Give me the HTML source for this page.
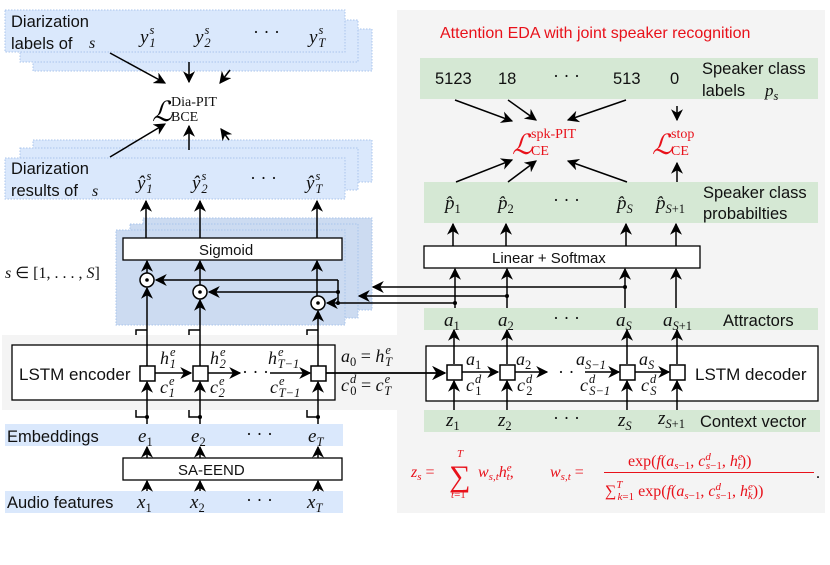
<!DOCTYPE html>
<html><head><meta charset="utf-8"><style>
html,body{margin:0;padding:0;background:#fff;}
svg{display:block;}
.sf{font-family:"Liberation Sans",sans-serif;font-size:16.5px;fill:#111;}
.m{font-family:"Liberation Serif",serif;font-style:italic;font-size:19px;fill:#111;}
.r{font-family:"Liberation Serif",serif;font-size:18px;fill:#111;}
.s{font-size:12.5px;}
.red{fill:#e8111a;}
</style></head><body>
<svg width="830" height="565" viewBox="0 0 830 565" xmlns="http://www.w3.org/2000/svg">
<defs>
<marker id="a" viewBox="0 0 10 10" refX="9" refY="5" markerWidth="8" markerHeight="8" orient="auto-start-reverse"><path d="M0,0 L10,5 L0,10 L3,5z" fill="#000"/></marker>
</defs>
<rect x="397" y="10" width="428" height="503" fill="#f4f4f4"/>
<rect x="2" y="335" width="395" height="75" fill="#f4f4f4"/>
<g fill="#dae8fc" stroke="#a9c4eb" stroke-dasharray="1.5,1.5">
<rect x="33" y="29" width="339" height="42"/>
<rect x="20" y="20" width="338" height="42"/>
<rect x="5" y="10" width="340" height="42"/>
<rect x="33" y="140" width="339" height="42"/>
<rect x="20" y="148" width="338" height="42"/>
<rect x="5" y="158" width="340" height="41"/>
</g>
<g fill="#ccdbf1" stroke="#a9c4eb" stroke-dasharray="1.5,1.5">
<rect x="143" y="218" width="229" height="92"/>
<rect x="130" y="224" width="228" height="94"/>
<rect x="116" y="230" width="229" height="95"/>
</g>
<g fill="#dae8fc">
<rect x="5" y="424" width="338" height="22"/>
<rect x="5" y="491" width="338" height="22"/>
</g>
<g fill="#d5e8d4">
<rect x="420" y="58" width="398" height="41"/>
<rect x="424" y="182" width="394" height="41"/>
<rect x="424" y="308" width="394" height="22"/>
<rect x="424" y="410" width="396" height="22"/>
</g>
<g fill="#fff" stroke="#000" stroke-width="1.3">
<rect x="123" y="238" width="219" height="22"/>
<rect x="123" y="458" width="219" height="22"/>
<rect x="12" y="345" width="323" height="55"/>
<rect x="424" y="246" width="276" height="22"/>
<rect x="426" y="346" width="392" height="55"/>
</g>
<text class="sf" x="11" y="27">Diarization</text>
<text class="sf" x="11" y="49">labels of</text><text class="m" x="89" y="48" style="font-size:16px">s</text>
<text class="sf" x="11" y="174">Diarization</text>
<text class="sf" x="11" y="196">results of</text><text class="m" x="92" y="196" style="font-size:16px">s</text>
<g class="m">
<text x="140" y="43">y<tspan class="s" dx="1" dy="-9">s</tspan><tspan class="s" dx="-5" dy="13">1</tspan></text>
<text x="195" y="43">y<tspan class="s" dx="1" dy="-9">s</tspan><tspan class="s" dx="-5" dy="13">2</tspan></text>
<text x="309" y="43">y<tspan class="s" dx="1" dy="-9">s</tspan><tspan class="s" dx="-5" dy="13">T</tspan></text>
<text x="137" y="189">ŷ<tspan class="s" dx="1" dy="-9">s</tspan><tspan class="s" dx="-5" dy="13">1</tspan></text>
<text x="192" y="189">ŷ<tspan class="s" dx="1" dy="-9">s</tspan><tspan class="s" dx="-5" dy="13">2</tspan></text>
<text x="306" y="189">ŷ<tspan class="s" dx="1" dy="-9">s</tspan><tspan class="s" dx="-5" dy="13">T</tspan></text>
</g>
<text class="r" x="253" y="38">· · ·</text>
<text class="r" x="250" y="184">· · ·</text>
<text x="152" y="121" style="font-family:'Liberation Serif',serif;font-style:italic;font-size:28px">ℒ</text>
<text class="r" x="171" y="106" style="font-size:14px">Dia-PIT</text>
<text class="r" x="171" y="121" style="font-size:14px">BCE</text>
<text class="sf" x="199" y="255" style="font-size:15px">Sigmoid</text>
<text class="m" x="5" y="278" style="font-size:16px">s <tspan style="font-style:normal">∈ [1, . . . , </tspan>S<tspan style="font-style:normal">]</tspan></text>
<text class="sf" x="19" y="380" style="font-size:17px">LSTM encoder</text>
<g class="m" style="font-size:18px">
<text x="160" y="364">h<tspan class="s" dx="1" dy="-8">e</tspan><tspan class="s" dx="-6" dy="12">1</tspan></text>
<text x="160" y="393">c<tspan class="s" dx="1" dy="-8">e</tspan><tspan class="s" dx="-6" dy="12">1</tspan></text>
<text x="210" y="364">h<tspan class="s" dx="1" dy="-8">e</tspan><tspan class="s" dx="-6" dy="12">2</tspan></text>
<text x="210" y="393">c<tspan class="s" dx="1" dy="-8">e</tspan><tspan class="s" dx="-6" dy="12">2</tspan></text>
<text x="268" y="364">h<tspan class="s" dx="1" dy="-8">e</tspan><tspan class="s" dx="-6" dy="12">T−1</tspan></text>
<text x="270" y="393">c<tspan class="s" dx="1" dy="-8">e</tspan><tspan class="s" dx="-6" dy="12">T−1</tspan></text>
<text x="341" y="362">a<tspan class="s" style="font-style:normal" dy="4">0</tspan><tspan dy="-4" style="font-style:normal"> = </tspan>h<tspan class="s" dx="1" dy="-8">e</tspan><tspan class="s" dx="-6" dy="12">T</tspan></text>
<text x="341" y="391">c<tspan class="s" dx="1" dy="-8">d</tspan><tspan class="s" dx="-6" dy="12" style="font-style:normal">0</tspan><tspan dy="-4" style="font-style:normal"> = </tspan>c<tspan class="s" dx="1" dy="-8">e</tspan><tspan class="s" dx="-6" dy="12">T</tspan></text>
</g>
<text class="r" x="242" y="378">· · ·</text>
<text class="sf" x="7" y="442">Embeddings</text>
<text class="sf" x="7" y="508">Audio features</text>
<g class="m">
<text x="138" y="442">e<tspan class="s" dy="4" style="font-style:normal">1</tspan></text>
<text x="191" y="442">e<tspan class="s" dy="4" style="font-style:normal">2</tspan></text>
<text x="308" y="442">e<tspan class="s" dy="4">T</tspan></text>
<text x="137" y="508">x<tspan class="s" dy="4" style="font-style:normal">1</tspan></text>
<text x="190" y="508">x<tspan class="s" dy="4" style="font-style:normal">2</tspan></text>
<text x="307" y="508">x<tspan class="s" dy="4">T</tspan></text>
</g>
<text class="r" x="246" y="440">· · ·</text>
<text class="r" x="246" y="506">· · ·</text>
<text class="sf" x="178" y="475" style="font-size:15px">SA-EEND</text>
<text class="sf red" x="440" y="38" style="font-size:16px">Attention EDA with joint speaker recognition</text>
<text class="sf" x="435" y="84">5123</text>
<text class="sf" x="498" y="84">18</text>
<text class="r" x="553" y="82">· · ·</text>
<text class="sf" x="613" y="84">513</text>
<text class="sf" x="670" y="84">0</text>
<text class="sf" x="702" y="74">Speaker class</text>
<text class="sf" x="702" y="96">labels</text><text class="m" x="765" y="96" style="font-size:17px">p<tspan class="s" dy="4">s</tspan></text>
<text x="512" y="154" style="font-family:'Liberation Serif',serif;font-style:italic;font-size:28px;fill:#e8111a">ℒ</text>
<text class="r red" x="531" y="138" style="font-size:14px">spk-PIT</text>
<text class="r red" x="531" y="155" style="font-size:14px">CE</text>
<text x="652" y="154" style="font-family:'Liberation Serif',serif;font-style:italic;font-size:28px;fill:#e8111a">ℒ</text>
<text class="r red" x="671" y="138" style="font-size:14px">stop</text>
<text class="r red" x="671" y="155" style="font-size:14px">CE</text>
<g class="m">
<text x="445" y="209">p̂<tspan class="s" dy="4" style="font-style:normal">1</tspan></text>
<text x="498" y="209">p̂<tspan class="s" dy="4" style="font-style:normal">2</tspan></text>
<text x="617" y="209">p̂<tspan class="s" dy="4">S</tspan></text>
<text x="656" y="209">p̂<tspan class="s" dy="4">S<tspan style="font-style:normal">+1</tspan></tspan></text>
<text x="444" y="326">a<tspan class="s" dy="4" style="font-style:normal">1</tspan></text>
<text x="498" y="326">a<tspan class="s" dy="4" style="font-style:normal">2</tspan></text>
<text x="616" y="326">a<tspan class="s" dy="4">S</tspan></text>
<text x="663" y="326">a<tspan class="s" dy="4">S<tspan style="font-style:normal">+1</tspan></tspan></text>
<text x="446" y="426">z<tspan class="s" dy="4" style="font-style:normal">1</tspan></text>
<text x="498" y="426">z<tspan class="s" dy="4" style="font-style:normal">2</tspan></text>
<text x="618" y="426">z<tspan class="s" dy="4">S</tspan></text>
<text x="658" y="424">z<tspan class="s" dy="4">S<tspan style="font-style:normal">+1</tspan></tspan></text>
</g>
<text class="r" x="553" y="206">· · ·</text>
<text class="r" x="553" y="324">· · ·</text>
<text class="r" x="553" y="424">· · ·</text>
<text class="sf" x="703" y="198">Speaker class</text>
<text class="sf" x="703" y="219">probabilties</text>
<text class="sf" x="492" y="263" style="font-size:15px">Linear + Softmax</text>
<text class="sf" x="723" y="326">Attractors</text>
<text class="sf" x="700" y="427">Context vector</text>
<text class="sf" x="695" y="380" style="font-size:17px">LSTM decoder</text>
<g class="m" style="font-size:18px">
<text x="466" y="365">a<tspan class="s" dy="4" style="font-style:normal">1</tspan></text>
<text x="466" y="391">c<tspan class="s" dx="1" dy="-8">d</tspan><tspan class="s" dx="-6" dy="12" style="font-style:normal">1</tspan></text>
<text x="516" y="365">a<tspan class="s" dy="4" style="font-style:normal">2</tspan></text>
<text x="517" y="391">c<tspan class="s" dx="1" dy="-8">d</tspan><tspan class="s" dx="-6" dy="12" style="font-style:normal">2</tspan></text>
<text x="576" y="365">a<tspan class="s" dy="4">S−1</tspan></text>
<text x="580" y="391">c<tspan class="s" dx="1" dy="-8">d</tspan><tspan class="s" dx="-6" dy="12">S−1</tspan></text>
<text x="639" y="365">a<tspan class="s" dy="4">S</tspan></text>
<text x="641" y="391">c<tspan class="s" dx="1" dy="-8">d</tspan><tspan class="s" dx="-6" dy="12">S</tspan></text>
</g>
<text class="r" x="558" y="378">· ·</text>
<g style="font-family:'Liberation Serif',serif;font-size:16px;fill:#e8111a">
<text x="411" y="477"><tspan font-style="italic">z</tspan><tspan font-size="11" font-style="italic" dy="3">s</tspan><tspan dy="-3"> = </tspan></text>
<text x="449" y="486" font-size="30">∑</text>
<text x="457" y="457" font-size="11" font-style="italic">T</text>
<text x="451" y="498" font-size="11"><tspan font-style="italic">t</tspan>=1</text>
<text x="478" y="477" font-style="italic">w<tspan font-size="11" dy="3">s,t</tspan><tspan dy="-3">h</tspan><tspan font-size="11" dy="-6">e</tspan><tspan font-size="11" dx="-5" dy="9">t</tspan><tspan dy="-3" font-style="normal">,</tspan></text>
<text x="550" y="477"><tspan font-style="italic">w</tspan><tspan font-size="11" font-style="italic" dy="3">s,t</tspan><tspan dy="-3"> = </tspan></text>
<text x="628" y="466">exp(<tspan font-style="italic">f</tspan>(<tspan font-style="italic">a</tspan><tspan font-size="11" dy="3"><tspan font-style="italic">s</tspan>−1</tspan><tspan dy="-3">, </tspan><tspan font-style="italic">c</tspan><tspan font-size="11" dy="-6" font-style="italic">d</tspan><tspan font-size="11" dx="-5" dy="9"><tspan font-style="italic">s</tspan>−1</tspan><tspan dy="-3">, </tspan><tspan font-style="italic">h</tspan><tspan font-size="11" dy="-6" font-style="italic">e</tspan><tspan font-size="11" dx="-5" dy="9" font-style="italic">t</tspan><tspan dy="-3">))</tspan></text>
<rect x="604" y="472" width="210" height="1" fill="#e8111a"/>
<text x="605" y="496">∑<tspan font-size="11" dy="-8" font-style="italic">T</tspan><tspan font-size="11" dx="-5" dy="12"><tspan font-style="italic">k</tspan>=1</tspan><tspan dy="-4"> exp(</tspan><tspan font-style="italic">f</tspan>(<tspan font-style="italic">a</tspan><tspan font-size="11" dy="3"><tspan font-style="italic">s</tspan>−1</tspan><tspan dy="-3">, </tspan><tspan font-style="italic">c</tspan><tspan font-size="11" dy="-6" font-style="italic">d</tspan><tspan font-size="11" dx="-5" dy="9"><tspan font-style="italic">s</tspan>−1</tspan><tspan dy="-3">, </tspan><tspan font-style="italic">h</tspan><tspan font-size="11" dy="-6" font-style="italic">e</tspan><tspan font-size="11" dx="-5" dy="9" font-style="italic">k</tspan><tspan dy="-3">))</tspan></text>
<text x="816" y="478" fill="#000">.</text>
</g>
<g stroke="#000" stroke-width="1.5" fill="none">
<path d="M110,53 L165,83" marker-end="url(#a)"/>
<path d="M189,62 L189,82" marker-end="url(#a)"/>
<path d="M230,70 L220,83" marker-end="url(#a)"/>
<path d="M110,157 L165,124" marker-end="url(#a)"/>
<path d="M189,150 L189,126" marker-end="url(#a)"/>
<path d="M229,140 L221,129" marker-end="url(#a)"/>
<path d="M146,238 L146,201" marker-end="url(#a)"/>
<path d="M200,238 L200,201" marker-end="url(#a)"/>
<path d="M317,238 L317,201" marker-end="url(#a)"/>
<path d="M147,273 L147,261" marker-end="url(#a)"/>
<path d="M200,285 L200,261" marker-end="url(#a)"/>
<path d="M317,296 L317,261" marker-end="url(#a)"/>
<path d="M147,366 L147,288" marker-end="url(#a)"/>
<path d="M200,366 L200,300" marker-end="url(#a)"/>
<path d="M318,366 L318,311" marker-end="url(#a)"/>
<path d="M136,335 L136,330 L147,330"/><path d="M189,335 L189,330 L200,330"/><path d="M307,335 L307,330 L318,330"/>
<path d="M338,280 L338,303"/>
<path d="M338,280 L156,280" marker-end="url(#a)"/>
<path d="M338,292 L209,292" marker-end="url(#a)"/>
<path d="M455,303 L327,303" marker-end="url(#a)"/>
<path d="M507,296 L359,296" marker-end="url(#a)"/>
<path d="M625,287 L373,287" marker-end="url(#a)"/>
<path d="M147,424 L147,382" marker-end="url(#a)"/>
<path d="M200,424 L200,382" marker-end="url(#a)"/>
<path d="M318,424 L318,382" marker-end="url(#a)"/>
<path d="M136,410 L136,417 L147,417"/><path d="M189,410 L189,417 L200,417"/><path d="M307,410 L307,417 L318,417"/>
<path d="M147,491 L147,481" marker-end="url(#a)"/><path d="M200,491 L200,481" marker-end="url(#a)"/><path d="M318,491 L318,481" marker-end="url(#a)"/>
<path d="M147,458 L147,447" marker-end="url(#a)"/><path d="M200,458 L200,447" marker-end="url(#a)"/><path d="M318,458 L318,447" marker-end="url(#a)"/>
<path d="M155,373 L191,373" marker-end="url(#a)"/>
<path d="M208,373 L240,373" marker-end="url(#a)"/>
<path d="M270,373 L310,373" marker-end="url(#a)"/>
<path d="M326,373 L445,373" marker-end="url(#a)" stroke-width="1.8"/>
<path d="M462,372 L498,372" marker-end="url(#a)"/>
<path d="M515,372 L547,372" marker-end="url(#a)"/>
<path d="M585,372 L619,372" marker-end="url(#a)"/>
<path d="M635,372 L669,372" marker-end="url(#a)"/>
<path d="M454,410 L454,381" marker-end="url(#a)"/><path d="M507,410 L507,381" marker-end="url(#a)"/><path d="M627,410 L627,381" marker-end="url(#a)"/><path d="M677,410 L677,381" marker-end="url(#a)"/>
<path d="M454,364 L454,330" marker-end="url(#a)"/><path d="M507,364 L507,330" marker-end="url(#a)"/><path d="M627,364 L627,330" marker-end="url(#a)"/><path d="M677,364 L677,330" marker-end="url(#a)"/>
<path d="M455,308 L455,269" marker-end="url(#a)"/><path d="M507,308 L507,269" marker-end="url(#a)"/><path d="M625,308 L625,269" marker-end="url(#a)"/><path d="M676,308 L676,269" marker-end="url(#a)"/>
<path d="M453,246 L453,224" marker-end="url(#a)"/><path d="M506,246 L506,224" marker-end="url(#a)"/><path d="M626,246 L626,224" marker-end="url(#a)"/><path d="M676,246 L676,224" marker-end="url(#a)"/>
<path d="M456,182 L512,160" marker-end="url(#a)"/>
<path d="M508,182 L536,161" marker-end="url(#a)"/>
<path d="M627,182 L568,161" marker-end="url(#a)"/>
<path d="M677,182 L677,163" marker-end="url(#a)"/>
<path d="M455,100 L512,121" marker-end="url(#a)"/>
<path d="M508,100 L536,120" marker-end="url(#a)"/>
<path d="M626,100 L568,120" marker-end="url(#a)"/>
<path d="M677,106 L677,120" marker-end="url(#a)"/>
</g>
<g fill="#000">
<circle cx="338" cy="292" r="2"/><circle cx="338" cy="303" r="2"/>
<circle cx="455" cy="303" r="2"/><circle cx="507" cy="296" r="2"/><circle cx="625" cy="287" r="2"/>
<circle cx="147" cy="417" r="2"/><circle cx="200" cy="417" r="2"/><circle cx="318" cy="417" r="2"/>
</g>
<g stroke="#000" stroke-width="1.5" fill="#fff">
<circle cx="147" cy="280" r="7"/><circle cx="200" cy="292" r="7"/><circle cx="318" cy="303" r="7"/>
</g>
<g fill="#000"><circle cx="147" cy="280" r="1.8"/><circle cx="200" cy="292" r="1.8"/><circle cx="318" cy="303" r="1.8"/></g>
<g fill="#fff" stroke="#000" stroke-width="1.5">
<rect x="140" y="366" width="15" height="15"/><rect x="193" y="366" width="15" height="15"/><rect x="311" y="366" width="15" height="15"/>
<rect x="447" y="365" width="15" height="15"/><rect x="500" y="365" width="15" height="15"/><rect x="620" y="365" width="15" height="15"/><rect x="670" y="365" width="15" height="15"/>
</g>
</svg>
</body></html>
